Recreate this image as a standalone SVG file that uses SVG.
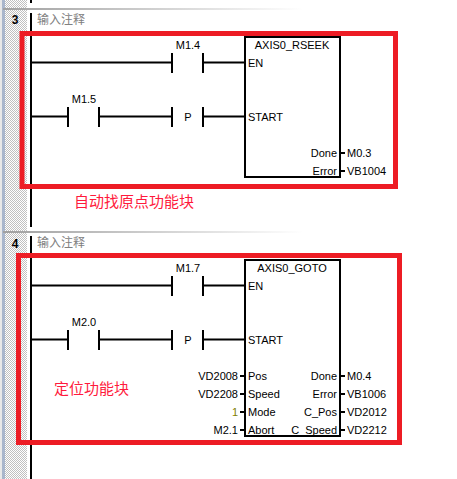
<svg xmlns="http://www.w3.org/2000/svg" width="457" height="479" viewBox="0 0 457 479">
<style>
text{font-family:"Liberation Sans",Arial,sans-serif;font-size:11px;fill:#000}
.cjk{font-family:"Noto Sans CJK SC","Liberation Sans",sans-serif}
.c{font-size:12px;fill:#808080}
.r{fill:#ff1a3c;font-size:15px}
.n{font-weight:bold;font-size:12px}
.e{text-anchor:end}
.m{text-anchor:middle}
.w{stroke:#000;stroke-width:2;fill:none}
.b{stroke:#000;stroke-width:2;fill:#fff}
.h{fill:none;stroke:#ed1c24;stroke-width:5}
</style>
<defs>
<pattern id="dither" width="2" height="2" patternUnits="userSpaceOnUse"><rect width="2" height="2" fill="#fff"/><rect width="1" height="1" fill="#c0c0c0"/><rect x="1" y="1" width="1" height="1" fill="#c0c0c0"/></pattern>
<linearGradient id="sep"><stop offset="0" stop-color="#a0a0a0"/><stop offset="1" stop-color="#fff"/></linearGradient>
</defs>
<rect width="457" height="479" fill="#fff"/>
<g id="gutter">
<rect x="0" y="0" width="2" height="479" fill="#e8e8e8"/>
<rect x="2" y="0" width="3" height="479" fill="#a9b6cc"/>
<rect x="5" y="0" width="22" height="479" fill="url(#dither)"/>
<rect x="3" y="8" width="300" height="2" fill="url(#sep)"/>
<rect x="3" y="231" width="300" height="2" fill="url(#sep)"/>
<text class="n m" x="15" y="24">3</text>
<text class="n m" x="15" y="248">4</text>
</g>
<g id="connectors">
<path class="w" d="M31 0V3M31 13V227M31 236V479"/>
<path class="w" d="M31 62.500H172M203 62.500H245M31 116.500H68M99 116.500H172M203 116.500H245"/>
<path class="w" d="M31 285.500H172M203 285.500H245M31 339.500H68M99 339.500H172M203 339.500H245"/>
<path class="w" d="M340 153H345M340 171H345"/>
<path class="w" d="M240 376H245M240 394H245M240 412H245M240 430H245M340 376H345M340 394H345M340 412H345M340 430H345"/>
</g>
<g id="rung3-contacts">
<path class="w" d="M172 53V73M203 53V73M68 107V127M99 107V127M172 107V127M203 107V127"/>
<text x="188" y="49" class="m">M1.4</text>
<text x="84" y="103" class="m">M1.5</text>
<text x="188" y="121" class="m">P</text>
</g>
<g id="rung4-contacts">
<path class="w" d="M172 276V296M203 276V296M68 330V350M99 330V350M172 330V350M203 330V350"/>
<text x="188" y="272" class="m">M1.7</text>
<text x="84" y="326" class="m">M2.0</text>
<text x="188" y="344" class="m">P</text>
</g>
<g id="block-rseek">
<rect class="b" x="245" y="37" width="95" height="140"/>
<text x="292" y="49" class="m">AXIS0_RSEEK</text>
<text x="248" y="67">EN</text>
<text x="248" y="121">START</text>
<text x="337" y="157" class="e">Done</text>
<text x="337" y="175" class="e">Error</text>
<text x="347" y="157">M0.3</text>
<text x="347" y="175">VB1004</text>
</g>
<g id="block-goto">
<rect class="b" x="245" y="260" width="95" height="176"/>
<text x="292" y="272" class="m">AXIS0_GOTO</text>
<text x="248" y="290">EN</text>
<text x="248" y="344">START</text>
<text x="248" y="380">Pos</text>
<text x="248" y="398">Speed</text>
<text x="248" y="416">Mode</text>
<text x="248" y="434">Abort</text>
<text x="337" y="380" class="e">Done</text>
<text x="337" y="398" class="e">Error</text>
<text x="337" y="416" class="e">C_Pos</text>
<text x="337" y="434" class="e">C_Speed</text>
<text x="238" y="380" class="e">VD2008</text>
<text x="238" y="398" class="e">VD2208</text>
<text x="238" y="416" class="e" style="fill:#808000">1</text>
<text x="238" y="434" class="e">M2.1</text>
<text x="347" y="380">M0.4</text>
<text x="347" y="398">VB1006</text>
<text x="347" y="416">VD2012</text>
<text x="347" y="434">VD2212</text>
</g>
<g id="comments">
<text class="cjk c" x="37" y="24">输入注释</text>
<text class="cjk c" x="37" y="247">输入注释</text>
</g>
<g id="highlights">
<rect class="h" x="22" y="33.500" width="373.500" height="153"/>
<rect class="h" x="18.500" y="255.500" width="381" height="187"/>
</g>
<g id="labels">
<text class="cjk r" x="74" y="207">自动找原点功能块</text>
<text class="cjk r" x="54" y="394">定位功能块</text>
</g>
</svg>
